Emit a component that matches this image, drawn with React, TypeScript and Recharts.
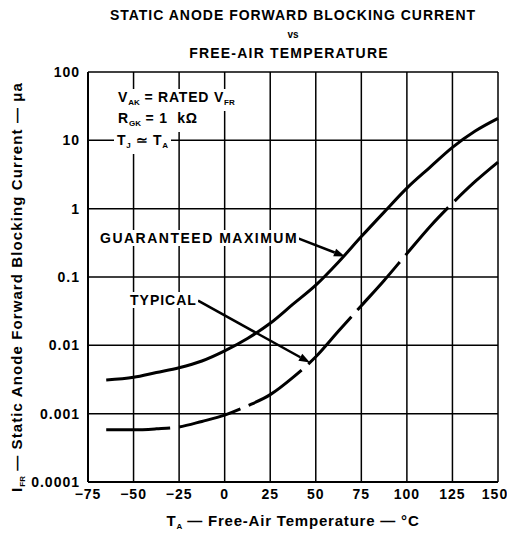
import { LineChart, Line, XAxis, YAxis, CartesianGrid, ReferenceLine } from "recharts";

const temps = [-65, -50, -37.5, -25, -12.5, 0, 12.5, 25, 37.5, 50, 62.5, 75, 87.5, 100, 112.5, 125, 137.5, 150];
const guaranteedMax = [
  0.0031, 0.0034, 0.004, 0.0047, 0.0059, 0.0083, 0.0126, 0.021, 0.04, 0.076, 0.166, 0.39, 0.89, 2.0, 4.0, 7.9, 13.7, 21,
];
const typical = [
  0.00058, 0.00058, 0.0006, 0.00064, 0.00077, 0.00095, 0.0013, 0.0019, 0.0034, 0.0068, 0.0162, 0.038, 0.089, 0.22, 0.54,
  1.2, 2.5, 4.8,
];

const xTicks = [-75, -50, -25, 0, 25, 50, 75, 100, 125, 150];
const yTicks = [0.0001, 0.001, 0.01, 0.1, 1, 10, 100];
const yTickLabels = ["0.0001", "0.001", "0.01", "0.1", "1", "10", "100"];

// leader arrows: from label to curve, in data units [temp, current]
const gmArrow = { from: [40, 0.37], to: [66, 0.2] };
const typArrow = { from: [-14.6, 0.045], to: [46.8, 0.0056] };

const data = temps.map((t, i) => ({ t, gm: guaranteedMax[i], typ: typical[i] }));

const FONT = '"Liberation Sans", Arial, sans-serif';

function ArrowShape(props: any) {
  const { x1, y1, x2, y2 } = props;
  const a = Math.atan2(y2 - y1, x2 - x1);
  const len = 11;
  const w = 4;
  const bx = x2 - len * Math.cos(a);
  const by = y2 - len * Math.sin(a);
  const px = -Math.sin(a) * w;
  const py = Math.cos(a) * w;
  return (
    <g>
      <line x1={x1} y1={y1} x2={bx} y2={by} stroke="#000" strokeWidth={2.5} />
      <polygon points={`${x2},${y2} ${bx + px},${by + py} ${bx - px},${by - py}`} fill="#000" />
    </g>
  );
}

const label: React.CSSProperties = {
  position: "absolute",
  background: "#fff",
  fontFamily: FONT,
  fontWeight: 700,
  fontSize: 14,
  lineHeight: "16px",
  color: "#000",
  whiteSpace: "nowrap",
};

const sub: React.CSSProperties = { fontSize: 8, verticalAlign: "-3px", letterSpacing: 0 };

const tickStyle = { fill: "#000", fontSize: 14, fontWeight: 700, fontFamily: FONT, letterSpacing: 1 };

export default function App() {
  return (
    <div style={{ position: "absolute", left: 0, top: 0, width: 507, height: 534, background: "#fff" }}>
      <LineChart width={507} height={534} data={data} margin={{ top: 72, right: 9, bottom: 22, left: 0 }}>
        <CartesianGrid stroke="#000" strokeWidth={1.5} strokeOpacity={1} />
        <XAxis
          dataKey="t"
          type="number"
          domain={[-75, 150]}
          ticks={xTicks}
          tickSize={0}
          tickMargin={7}
          height={30}
          axisLine={{ stroke: "#000", strokeWidth: 2 }}
          tickFormatter={(v: number) => (v < 0 ? `\u2212${Math.abs(v)}` : `${v}`)}
          tick={tickStyle}
        />
        <YAxis
          type="number"
          scale="log"
          domain={[0.0001, 100]}
          allowDataOverflow
          ticks={yTicks}
          tickSize={0}
          tickMargin={8}
          width={88}
          axisLine={{ stroke: "#000", strokeWidth: 2 }}
          tickFormatter={(v: number) => yTickLabels[yTicks.indexOf(v)] ?? `${v}`}
          tick={tickStyle}
        />
        <Line type="monotone" dataKey="gm" stroke="#000" strokeWidth={3} dot={false} isAnimationActive={false} />
        <Line
          type="monotone"
          dataKey="typ"
          stroke="#000"
          strokeWidth={3}
          strokeDasharray="64 9"
          dot={false}
          isAnimationActive={false}
        />
        <ReferenceLine
          segment={[
            { x: gmArrow.from[0], y: gmArrow.from[1] },
            { x: gmArrow.to[0], y: gmArrow.to[1] },
          ]}
          shape={ArrowShape}
        />
        <ReferenceLine
          segment={[
            { x: typArrow.from[0], y: typArrow.from[1] },
            { x: typArrow.to[0], y: typArrow.to[1] },
          ]}
          shape={ArrowShape}
        />
      </LineChart>

      {/* title */}
      <div style={{ ...label, left: 0, width: 586, top: 7, textAlign: "center", letterSpacing: 1 }}>
        STATIC ANODE FORWARD BLOCKING CURRENT
      </div>
      <div style={{ ...label, left: 0, width: 586, top: 27, textAlign: "center", fontSize: 10, background: "none" }}>
        vs
      </div>
      <div style={{ ...label, left: 0, width: 578, top: 45, textAlign: "center", letterSpacing: 1.2, background: "none" }}>
        FREE-AIR TEMPERATURE
      </div>

      {/* conditions */}
      <div style={{ ...label, left: 116, top: 89, padding: "0 2px", letterSpacing: 0.8 }}>
        V<span style={sub}>AK</span> = RATED V<span style={sub}>FR</span>
      </div>
      <div style={{ ...label, left: 116, top: 110, padding: "0 2px", letterSpacing: 0.8 }}>
        R<span style={sub}>GK</span> = 1&nbsp;&nbsp;kΩ
      </div>
      <div style={{ ...label, left: 114, top: 132, padding: "0 3px", letterSpacing: 0.8 }}>
        T<span style={sub}>J</span> ≃ T<span style={sub}>A</span>
      </div>

      {/* curve labels */}
      <div style={{ ...label, left: 99, top: 230, letterSpacing: 1.5, padding: "0 1px" }}>GUARANTEED MAXIMUM</div>
      <div style={{ ...label, left: 129, top: 292, letterSpacing: 1, padding: "0 1px" }}>TYPICAL</div>

      {/* axis titles */}
      <div
        style={{ ...label, left: 0, width: 586, top: 513, textAlign: "center", background: "none", fontSize: 15, letterSpacing: 0.8 }}
      >
        T<span style={sub}>A</span> — Free-Air Temperature — °C
      </div>
      <div
        style={{
          ...label,
          background: "none",
          fontSize: 15,
          letterSpacing: 1.1,
          left: 20,
          top: 287,
          transform: "translate(-50%, -50%) rotate(-90deg)",
        }}
      >
        I<span style={sub}>FR</span> — Static Anode Forward Blocking Current — μa
      </div>
    </div>
  );
}
